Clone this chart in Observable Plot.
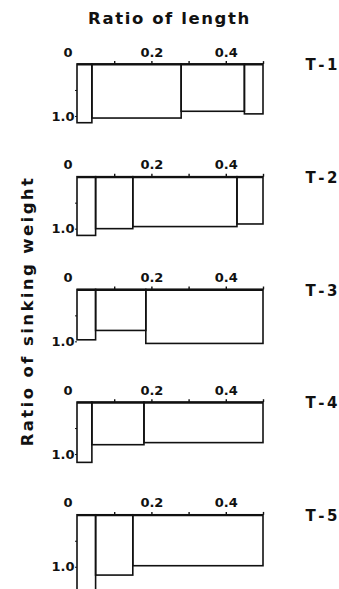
<!DOCTYPE html>
<html>
<head>
<meta charset="utf-8">
<script src="https://cdn.jsdelivr.net/npm/d3@7"></script>
<script src="https://cdn.jsdelivr.net/npm/@observablehq/plot@0.6"></script>
<style>
  body { margin: 0; background: #fff; font-family: "DejaVu Sans", sans-serif; color: #111; }
  #wrap { position: relative; width: 339px; }
  #title { height: 20px; padding-top: 10px; font-size: 16.5px; font-weight: bold; line-height: 17px;
           text-align: center; letter-spacing: 1.6px; }
  #ylabel { position: absolute; left: 27px; top: 311px; transform: translate(-50%, -50%) rotate(-90deg);
            white-space: nowrap; font-size: 16.5px; font-weight: bold; line-height: 17px; letter-spacing: 2.4px; }
  #chart svg { display: block; }
  #chart svg [aria-label^="y-axis"] { font-size: 13px; font-weight: bold; }
</style>
</head>
<body>
<div id="wrap">
  <div id="title">Ratio of length</div>
  <div id="chart"></div>
  <div id="ylabel">Ratio of sinking weight</div>
</div>
<script>
// Test runs, one panel each
const trials = ["T-1", "T-2", "T-3", "T-4", "T-5"];

// Segment boundaries along the body (ratio of length), per test
const segmentBounds = [
  [0, 0.04, 0.28, 0.45, 0.5],
  [0, 0.05, 0.15, 0.43, 0.5],
  [0, 0.05, 0.185, 0.5],
  [0, 0.04, 0.18, 0.5],
  [0, 0.05, 0.15, 0.5]
];

// Ratio of sinking weight of each segment, per test
const sinkingWeight = [
  [1.13, 1.04, 0.91, 0.96],
  [1.13, 1.00, 0.96, 0.91],
  [0.97, 0.79, 1.04],
  [1.16, 0.82, 0.78],
  [1.70, 1.16, 0.98]
];

// Axis ticks
const lengthTicks = [0.1, 0.2, 0.3, 0.4, 0.5];
const lengthLabels = [0, 0.2, 0.4];
const weightTicks = [0.5, 1.0];

const ink = "#111";

const segments = trials.flatMap((trial, i) =>
  sinkingWeight[i].map((weight, j) => ({
    trial,
    x1: segmentBounds[i][j],
    x2: segmentBounds[i][j + 1],
    weight
  }))
);

const labelFont = { fontSize: 13, fontWeight: "bold", fill: ink };

const chart = Plot.plot({
  width: 339,
  height: 572,
  marginTop: 8.5,
  marginBottom: 0,
  marginLeft: 77,
  marginRight: 76,
  style: { fontFamily: "DejaVu Sans, sans-serif", fontSize: "13px", color: ink, background: "white", overflow: "visible" },
  facet: { data: segments, y: "trial", marginTop: 0, marginBottom: 0, marginLeft: 0, marginRight: 0 },
  fy: { domain: trials, padding: 0, round: false, axis: null },
  x: { domain: [0, 0.5], axis: null },
  y: {
    domain: [-0.49, 1.678],
    reverse: true,
    axis: "left",
    ticks: weightTicks,
    tickFormat: d => (d === 1 ? "1.0" : ""),
    tickSize: 2,
    tickPadding: 1,
    label: null
  },
  marks: [
    // segments hanging below the length axis
    Plot.rect(segments, { x1: "x1", x2: "x2", y1: 0, y2: "weight", fill: "none", stroke: ink, strokeWidth: 1.6 }),
    // length axis along the top of each panel
    Plot.ruleY([0], { x1: 0, x2: lengthTicks[lengthTicks.length - 1], stroke: ink, strokeWidth: 2.2 }),
    Plot.ruleX(lengthTicks, { x: d => d, y1: 0, y2: -0.055, stroke: ink, strokeWidth: 1.4 }),
    Plot.text(lengthLabels.filter(d => d > 0), { x: d => d, y: 0, dy: -12, text: d => d.toFixed(1), ...labelFont }),
    Plot.text(lengthLabels.filter(d => d === 0), { x: d => d, y: 0, dy: -12, dx: -5, textAnchor: "end", text: d => String(d), ...labelFont }),
    // test label to the right of each panel
    Plot.text(segments, Plot.selectFirst({
      y: 0,
      text: d => d.trial.replace("-", "\u2006-\u2006"),
      frameAnchor: "right",
      textAnchor: "start",
      dx: 42,
      dy: 1,
      ...labelFont,
      fontSize: 15
    }))
  ]
});

document.getElementById("chart").append(chart);
</script>
</body>
</html>
